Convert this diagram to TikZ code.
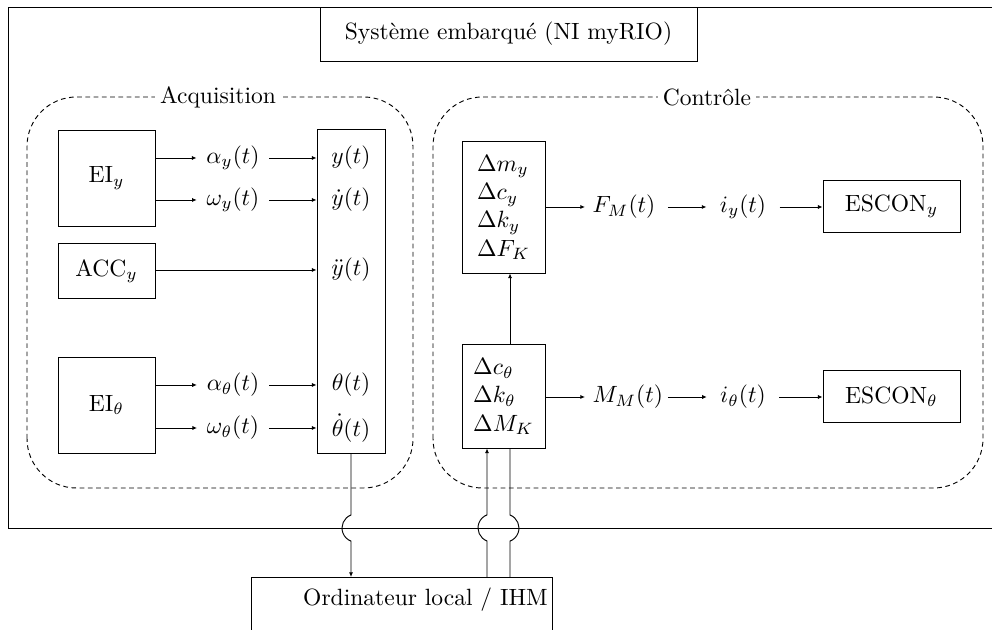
\documentclass[tikz,border=0pt]{standalone}
\usepackage{fontspec}
\usetikzlibrary{arrows.meta,calc}
\begin{document}
\begin{tikzpicture}[x=0.425pt,y=0.425pt,
  blk/.style={draw, rectangle, inner sep=0pt, line width=0.4pt},
  sig/.style={inner sep=4pt},
  val/.style={inner sep=1pt},
  mid/.style={inner sep=3pt, anchor=west, text width=28.8pt, align=left},
  cur/.style={inner sep=5.5pt},
  conn/.style={-{Latex[length=2pt,width=1.8pt]}, line width=0.4pt},
  wire/.style={line width=0.4pt},
  grp/.style={draw, dash pattern=on 2pt off 1.5pt, rounded corners=21pt},
  grplabel/.style={fill=white, inner sep=2pt}]
\useasboundingbox (0,0) rectangle (992,630);
\clip (0,0) rectangle (992,630);

% outer frame
\draw[wire] (8,102) rectangle (1010,623);
\node[blk, minimum width=160.2pt, minimum height=22.95pt] (title) at (508.5,596) {Système embarqué (NI myRIO)};

% groups
\draw[grp] (27,142) rectangle (413,533);
\node[grplabel] (acqlabel) at (218,533) {Acquisition};
\draw[grp] (433,142) rectangle (983,533);
\node[grplabel] (ctrllabel) at (707,533) {Contrôle};

% acquisition blocks
\node[blk, minimum width=41.2pt, minimum height=40.8pt] (eiy) at (106.5,452) {EI$_y$};
\node[blk, minimum width=41.2pt, minimum height=23pt] (accy) at (106.5,359) {ACC$_y$};
\node[blk, minimum width=41.2pt, minimum height=40.8pt] (eit) at (106.5,225) {EI$_\theta$};
\node[blk, minimum width=28.9pt, minimum height=137.3pt] (col) at (351,338.5) {};

\node[sig] (ay) at (233,472) {$\alpha_y(t)$};
\node[sig] (wy) at (233,430) {$\omega_y(t)$};
\node[sig] (at) at (233,245) {$\alpha_\theta(t)$};
\node[sig] (wt) at (233,202) {$\omega_\theta(t)$};

\node[val] (yy) at (351,472) {$y(t)$};
\node[val] (yd) at (351,430) {$\dot{y}(t)$};
\node[val] (ydd) at (351,360) {$\ddot{y}(t)$};
\node[val] (th) at (351,245) {$\theta(t)$};
\node[val] (thd) at (351,202) {$\dot{\theta}(t)$};

\draw[conn] (eiy.east |- ay) -- (ay.west);
\draw[conn] (ay.east) -- (col.west |- ay);
\draw[conn] (eiy.east |- wy) -- (wy.west);
\draw[conn] (wy.east) -- (col.west |- wy);
\draw[conn] (accy.east |- ydd) -- (col.west |- ydd);
\draw[conn] (eit.east |- at) -- (at.west);
\draw[conn] (at.east) -- (col.west |- at);
\draw[conn] (eit.east |- wt) -- (wt.west);
\draw[conn] (wt.east) -- (col.west |- wt);

% control blocks
\node[blk, minimum width=35.3pt, minimum height=55.7pt, align=left] (d1) at (503.5,422.5)
  {$\Delta m_y$\\$\Delta c_y$\\$\Delta k_y$\\$\Delta F_K$};
\node[blk, minimum width=35.3pt, minimum height=43.8pt, align=left] (d2) at (503.5,233.5)
  {$\Delta c_\theta$\\$\Delta k_\theta$\\$\Delta M_K$};

\node[mid] (fm) at (585,423) {$F_M(t)$};
\node[mid] (mm) at (585,233) {$M_M(t)$};
\node[cur] (iy) at (743,423) {$i_y(t)$};
\node[cur] (it) at (743,233) {$i_\theta(t)$};
\node[blk, minimum width=58.2pt, minimum height=22.5pt] (escy) at (891.5,423.5) {ESCON$_y$};
\node[blk, minimum width=58.2pt, minimum height=22.5pt] (esct) at (891.5,233.5) {ESCON$_\theta$};

\draw[conn] (d1.east |- fm.west) -- (fm.west);
\draw[conn] (fm.east) -- (iy.west);
\draw[conn] (iy.east) -- (escy.west |- iy);
\draw[conn] (d2.east |- mm.west) -- (mm.west);
\draw[conn] (mm.east) -- (it.west);
\draw[conn] (it.east) -- (esct.west |- it);

% local computer
\node[blk, minimum width=127.9pt, minimum height=40pt, anchor=north] (pc) at (401.5,53) {};
\node (pclabel) at (425.5,30) {Ordinateur local / IHM};

\coordinate (xl) at (487,0);
\coordinate (xr) at (510,0);

\draw[conn] (d2.north -| xr) -- (d1.south -| xr);

% links crossing the frame with hops
\draw[conn] (col.south) -- (col.south |- 0,115) arc[start angle=111, end angle=249, radius=14] -- (col.south |- pc.north);
\draw[conn] (pc.north -| xl) -- (487,89) arc[start angle=249, end angle=111, radius=14] -- (d2.south -| xl);
\draw[wire] (d2.south -| xr) -- (510,115) arc[start angle=69, end angle=-69, radius=14] -- (pc.north -| xr);
\end{tikzpicture}
\end{document}
